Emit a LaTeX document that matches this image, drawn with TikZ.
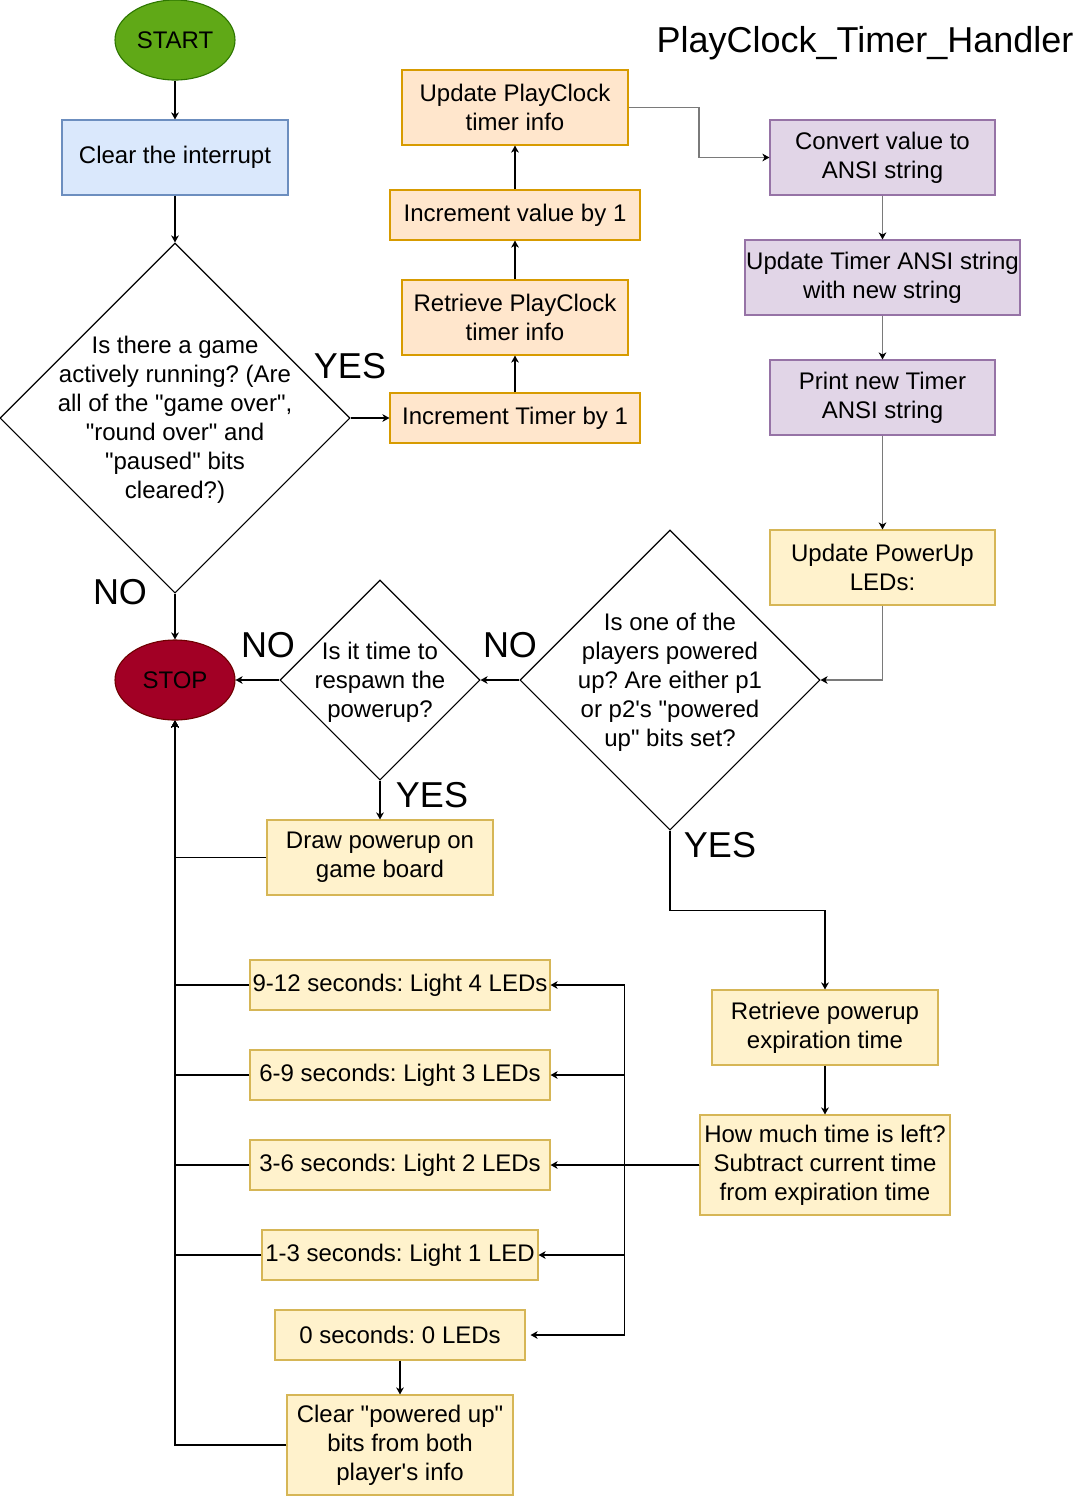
\documentclass[tikz,border=0pt]{standalone}
\usepackage{fontspec}
\setmainfont[Ligatures=TeXOff]{Liberation Sans}
\frenchspacing
\usetikzlibrary{shapes.geometric,arrows.meta,calc}
\definecolor{orfill}{HTML}{FFE6CC}\definecolor{orline}{HTML}{D79B00}
\definecolor{yefill}{HTML}{FFF2CC}\definecolor{yeline}{HTML}{D6B656}
\definecolor{pufill}{HTML}{E1D5E7}\definecolor{puline}{HTML}{9673A6}
\definecolor{blfill}{HTML}{DAE8FC}\definecolor{blline}{HTML}{6C8EBF}
\definecolor{grfill}{HTML}{60A917}\definecolor{grline}{HTML}{2D7600}
\definecolor{rdfill}{HTML}{A20025}\definecolor{rdline}{HTML}{6F0000}
\definecolor{edgegray}{HTML}{7A7A7A}
\tikzset{
  base/.style={font=\fontsize{12}{14.5}\selectfont\frenchspacing, align=center, inner sep=0pt, line width=0.55pt},
  box/.style={base, rectangle, draw},
  orbox/.style={box, fill=orfill, draw=orline},
  yebox/.style={box, fill=yefill, draw=yeline},
  pubox/.style={box, fill=pufill, draw=puline},
  blbox/.style={box, fill=blfill, draw=blline},
  term/.style={base, ellipse, draw, minimum width=60pt, minimum height=40pt},
  dia/.style={diamond, draw, aspect=1, inner sep=0pt, line width=0.55pt},
  dtext/.style={base, yshift=-1pt},
  big/.style={font=\fontsize{18}{21}\selectfont, inner sep=0pt},
  arr/.style={line width=0.55pt, -{Stealth[length=3.5pt,width=3.8pt,inset=1pt]}},
  garr/.style={line width=0.55pt, draw=edgegray, -{Stealth[length=3.5pt,width=3.8pt,inset=1pt,color=black]}},
  ln/.style={line width=0.55pt}
}
\begin{document}
\begin{tikzpicture}[x=0.5pt,y=-0.5pt]
\useasboundingbox (0,0) rectangle (1074,1496);
\fill[white] (0,0) rectangle (1074,1496);

% title
\node[big, anchor=base] (title) at (865,52) {PlayClock\_Timer\_Handler};

% left column
\node[term, fill=grfill, draw=grline] (start) at (175,40) {START};
\node[blbox, minimum width=113pt, minimum height=37.5pt] (clear) at (175,157.5) {Clear the interrupt};
\node[dia, minimum width=175pt, minimum height=175pt,
  label={[dtext]center:{Is there a game\\actively running? (Are\\all of the "game over",\\"round over" and\\"paused" bits\\cleared?)}}] (d1) at (175,418) {};

% middle column (timer)
\node[orbox, minimum width=125pt, minimum height=25pt] (inct) at (515,418) {Increment Timer by 1};
\node[orbox, minimum width=113pt, minimum height=37.5pt] (retr) at (515,317.5) {Retrieve PlayClock\\timer info};
\node[orbox, minimum width=125pt, minimum height=25pt] (incv) at (515,215) {Increment value by 1};
\node[orbox, minimum width=113pt, minimum height=37.5pt] (updpc) at (515,107.5) {Update PlayClock\\timer info};

% right column
\node[pubox, minimum width=112.5pt, minimum height=37.5pt] (conv) at (882.5,157.5) {Convert value to\\ANSI string};
\node[pubox, minimum width=137.5pt, minimum height=37.5pt] (updt) at (882.5,277.5) {Update Timer ANSI string\\with new string};
\node[pubox, minimum width=112.5pt, minimum height=37.5pt] (prnt) at (882.5,397.5) {Print new Timer\\ANSI string};
\node[yebox, minimum width=112.5pt, minimum height=37.5pt] (pwr) at (882.5,567.5) {Update PowerUp\\LEDs:};

% decisions row
\node[dia, minimum width=150pt, minimum height=150pt,
  label={[dtext]center:{Is one of the\\players powered\\up? Are either p1\\or p2's "powered\\up" bits set?}}] (d2) at (670,680) {};
\node[dia, minimum width=100pt, minimum height=100pt,
  label={[dtext]center:{Is it time to\\respawn the\\powerup?}}] (d3) at (380,680) {};
\node[term, fill=rdfill, draw=rdline] (stop) at (175,680) {STOP};

\node[yebox, minimum width=113pt, minimum height=37.5pt] (drw) at (380,857.5) {Draw powerup on\\game board};

% powerup timing
\node[yebox, minimum width=113pt, minimum height=37.5pt] (retp) at (825,1027.5) {Retrieve powerup\\expiration time};
\node[yebox, minimum width=125pt, minimum height=50pt] (howm) at (825,1165) {How much time is left?\\Subtract current time\\from expiration time};

\node[yebox, minimum width=150pt, minimum height=25pt] (s912) at (400,985) {9-12 seconds: Light 4 LEDs};
\node[yebox, minimum width=150pt, minimum height=25pt] (s69) at (400,1075) {6-9 seconds: Light 3 LEDs};
\node[yebox, minimum width=150pt, minimum height=25pt] (s36) at (400,1165) {3-6 seconds: Light 2 LEDs};
\node[yebox, minimum width=138pt, minimum height=25pt] (s13) at (400,1255) {1-3 seconds: Light 1 LED};
\node[yebox, minimum width=125pt, minimum height=25pt] (s0) at (400,1335) {0 seconds: 0 LEDs};
\node[yebox, minimum width=113pt, minimum height=50pt] (clr) at (400,1445) {Clear "powered up"\\bits from both\\player's info};

% labels
\node[big] (yes1) at (350,366) {YES};
\node[big] (no1) at (120,592) {NO};
\node[big] (no2) at (268,645) {NO};
\node[big] (no3) at (510,645) {NO};
\node[big] (yes2) at (432,795) {YES};
\node[big] (yes3) at (720,845) {YES};

% connectors
\draw[arr] (start.south) -- (clear.north);
\draw[arr] (clear.south) -- (d1.north);
\draw[arr] (d1.east) -- (inct.west);
\draw[arr] (inct.north) -- (retr.south);
\draw[arr] (retr.north) -- (incv.south);
\draw[arr] (incv.north) -- (updpc.south);
\draw[garr] (updpc.east) -| ($(updpc.east)!.5!(conv.west)$) |- (conv.west);
\draw[garr] (conv.south) -- (updt.north);
\draw[garr] (updt.south) -- (prnt.north);
\draw[garr] (prnt.south) -- (pwr.north);
\draw[garr] (pwr.south) |- (d2.east);
\draw[arr] (d2.west) -- (d3.east);
\draw[arr] (d3.west) -- (stop.east);
\draw[arr] (d1.south) -- (stop.north);
\draw[arr] (d3.south) -- (drw.north);
\draw[arr] (d2.south) -- ++(0,80) -| (retp.north);
\draw[arr] (retp.south) -- (howm.north);
\draw[arr] (howm.west) -- (s36.east);
\draw[arr] (howm.west) -- ++(-75,0) |- (s912.east);
\draw[arr] (howm.west) -- ++(-75,0) |- (s69.east);
\draw[arr] (howm.west) -- ++(-75,0) |- (s13.east);
\draw[arr] (howm.west) -- ++(-75,0) |- ([xshift=2.5pt]s0.east);
\draw[arr] (s0.south) -- (clr.north);
\draw[arr] (clr.west) -| (stop.south);
\draw[arr] (drw.west) -| (stop.south);
\draw[arr] (s912.west) -| (stop.south);
\draw[arr] (s69.west) -| (stop.south);
\draw[arr] (s36.west) -| (stop.south);
\draw[arr] (s13.west) -| (stop.south);
\end{tikzpicture}
\end{document}
